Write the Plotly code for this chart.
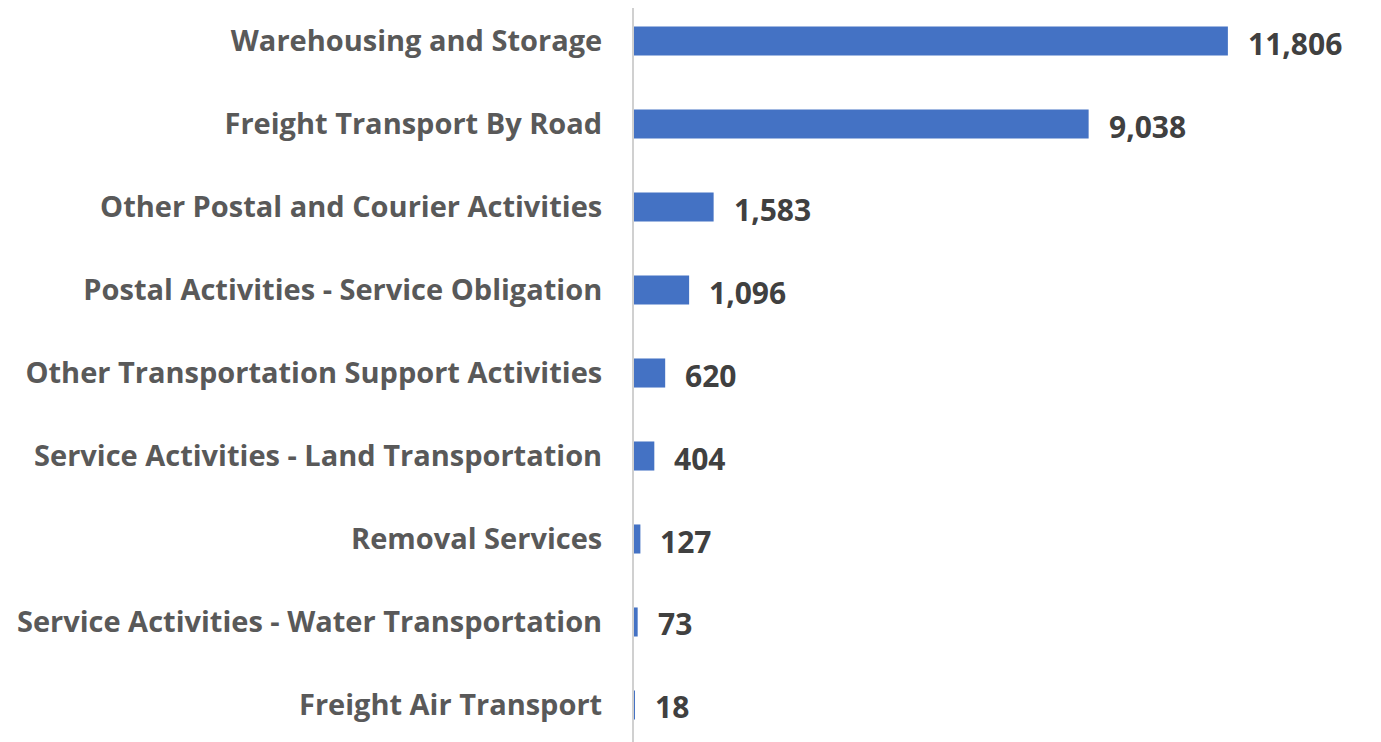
import plotly.graph_objects as go

categories = [
    "Warehousing and Storage",
    "Freight Transport By Road",
    "Other Postal and Courier Activities",
    "Postal Activities - Service Obligation",
    "Other Transportation Support Activities",
    "Service Activities - Land Transportation",
    "Removal Services",
    "Service Activities - Water Transportation",
    "Freight Air Transport",
]
values = [11806, 9038, 1583, 1096, 620, 404, 127, 73, 18]
value_labels = [f"{v:,}" for v in values]

FONT = "Open Sans"

fig = go.Figure(
    go.Bar(
        x=values,
        y=categories,
        orientation="h",
        marker=dict(color="#4472C4", line=dict(width=0)),
        width=0.35,
        hoverinfo="skip",
    )
)

for cat, v, lab in zip(categories, values, value_labels):
    fig.add_annotation(
        x=v, y=cat, text=lab, showarrow=False,
        xanchor="left", yanchor="middle", xshift=18, yshift=-2,
        font=dict(family=FONT, size=30, color="#404040", weight="bold"),
    )

fig.update_layout(
    width=1373, height=734,
    margin=dict(l=626, r=0, t=0, b=0),
    plot_bgcolor="white", paper_bgcolor="white",
    showlegend=False,
    xaxis=dict(range=[0, 14850], visible=False, fixedrange=True),
    yaxis=dict(
        range=[8.446, -0.398],
        showline=True, linecolor="#d0d0d0", linewidth=2,
        showgrid=False, zeroline=False, ticks="",
        ticklabelstandoff=24,
        tickfont=dict(family=FONT, size=29, color="#595959", weight="bold"),
    ),
)

fig.write_html("out.html")
